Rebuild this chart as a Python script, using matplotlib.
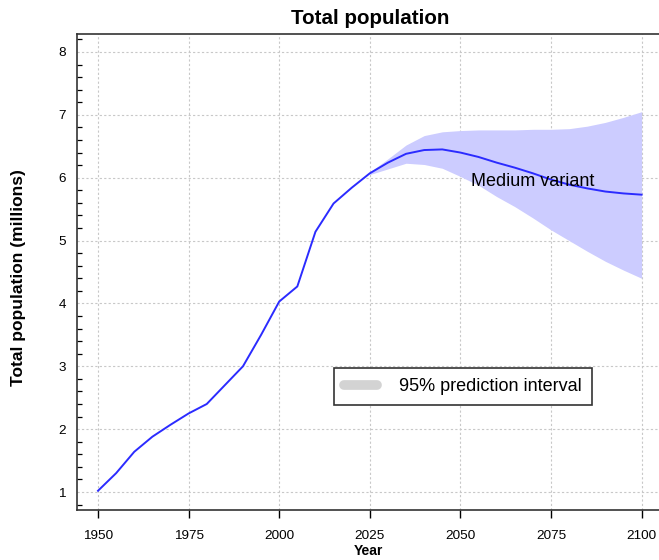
import numpy as np
import matplotlib
matplotlib.use("Agg")
import matplotlib.pyplot as plt
from matplotlib.lines import Line2D
from matplotlib.ticker import MultipleLocator

plt.rcParams['font.family'] = ['Liberation Sans', 'DejaVu Sans']

# observed estimates, 1950-2025
hist_years = [1950, 1955, 1960, 1965, 1970, 1975, 1980, 1985, 1990, 1995,
              2000, 2005, 2010, 2015, 2020, 2025]
hist_pop = [1.02, 1.30, 1.64, 1.88, 2.07, 2.25, 2.40, 2.70, 3.00, 3.50,
            4.03, 4.27, 5.14, 5.59, 5.84, 6.07]

# projections, 2025-2100
proj_years = [2025, 2030, 2035, 2040, 2045, 2050, 2055, 2060, 2065, 2070,
              2075, 2080, 2085, 2090, 2095, 2100]
medium = [6.07, 6.24, 6.38, 6.44, 6.45, 6.40, 6.33, 6.24, 6.16, 6.07,
          5.97, 5.89, 5.83, 5.78, 5.75, 5.73]
upper95 = [6.09, 6.30, 6.52, 6.67, 6.73, 6.75, 6.76, 6.76, 6.76, 6.77,
           6.77, 6.78, 6.82, 6.88, 6.96, 7.05]
lower95 = [6.05, 6.14, 6.23, 6.21, 6.15, 6.02, 5.88, 5.70, 5.54, 5.36,
           5.17, 5.00, 4.83, 4.67, 4.53, 4.40]

W, H = 659, 560
fig = plt.figure(figsize=(W / 100, H / 100), dpi=100)
# plot area runs past the right edge of the picture
ax = fig.add_axes([77 / W, 50 / H, 585.6 / W, 476 / H])

ax.fill_between(proj_years, lower95, upper95, color='#ccccff', lw=0, zorder=2)
ax.plot(hist_years + proj_years[1:], hist_pop + medium[1:], color='#2b2bff', lw=1.4, zorder=3)

ax.text(2053, 5.94, 'Medium variant', fontsize=13, va='center', ha='left', zorder=4)

ax.set_xlim(1944.2, 2105.8)
ax.set_ylim(0.714, 8.286)
ax.set_xticks(np.arange(1950, 2101, 25))
ax.set_yticks(np.arange(1, 9, 1))
ax.yaxis.set_minor_locator(MultipleLocator(0.2))

ax.grid(True, which='major', color='#c8c8c8', linestyle=(0, (2, 2)), lw=0.8, zorder=0)
ax.set_axisbelow(True)

ax.tick_params(axis='x', direction='out', length=6, width=1, pad=8.5, labelsize=9.7)
ax.tick_params(axis='y', which='major', direction='in', length=0, pad=8, labelsize=9.7)
ax.tick_params(axis='y', which='minor', direction='in', length=3.3, width=0.9)

for s in ['left', 'bottom', 'top']:
    ax.spines[s].set_color('#333333')
    ax.spines[s].set_linewidth(1.2)
ax.spines['right'].set_visible(False)

handle = Line2D([0], [0], color='#d3d3d3', lw=7, solid_capstyle='round')
leg = ax.legend([handle], ['95% prediction interval'], loc='lower left',
                bbox_to_anchor=(0.439, 0.2206), borderaxespad=0, fontsize=13,
                fancybox=False, framealpha=1, edgecolor='#333333',
                handlelength=1.8, borderpad=0.55, handletextpad=1.25)
leg.get_frame().set_linewidth(1.2)

fig.text(370 / W, 1 - 18 / H, 'Total population', ha='center', va='center',
         fontsize=14.8, fontweight='bold')
fig.text(368 / W, 1 - 551 / H, 'Year', ha='center', va='center',
         fontsize=10, fontweight='bold')
fig.text(19 / W, 1 - 278 / H, 'Total population (millions)', ha='center', va='center',
         rotation=90, fontsize=12.5, fontweight='bold')

fig.savefig('out.png', dpi=100)
